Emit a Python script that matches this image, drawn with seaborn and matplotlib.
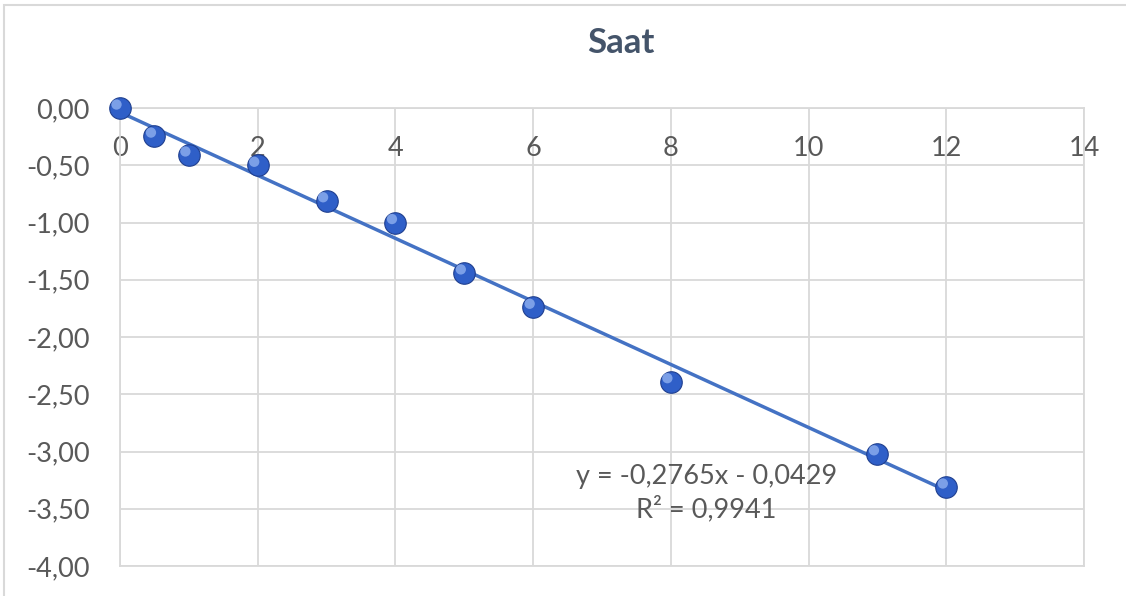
import matplotlib
matplotlib.use("Agg")
import matplotlib.pyplot as plt
import matplotlib.ticker as mticker
import matplotlib.patches as mpatches
import matplotlib.transforms as mtransforms
import seaborn as sns
import pandas as pd

# Data
saat_x = [0, 0.5, 1, 2, 3, 4, 5, 6, 8, 11, 12]
saat_y = [0.00, -0.245, -0.41, -0.50, -0.81, -1.00, -1.44, -1.74, -2.39, -3.02, -3.31]
equation_text = "y = -0,2765x - 0,0429\nR² = 0,9941"
title_text = "Saat"
x_ticks = [0, 2, 4, 6, 8, 10, 12, 14]
y_ticks = [0.0, -0.5, -1.0, -1.5, -2.0, -2.5, -3.0, -3.5, -4.0]

df = pd.DataFrame({"x": saat_x, "y": saat_y})

sns.set_theme(style="white")
plt.rcParams["font.family"] = ["Lato", "DejaVu Sans"]

fig = plt.figure(figsize=(11.26, 5.96), dpi=100)
ax = fig.add_axes([120 / 1126, 30 / 596, (1084 - 120) / 1126, (566 - 108) / 596])

# chart border
fig.patches.append(mpatches.Rectangle((4 / 1126, -0.01), 1.02, 1 - 5 / 596 + 0.01,
                                      transform=fig.transFigure, fill=False,
                                      edgecolor="#D9D9D9", linewidth=1.5))

# trendline
sns.regplot(data=df, x="x", y="y", ax=ax, scatter=False, ci=None, truncate=True,
            line_kws=dict(color="#4472C4", linewidth=2.5, zorder=3))

# markers (sphere look: main + highlight)
sns.scatterplot(data=df, x="x", y="y", ax=ax, s=240, color="#2F5FC8",
                edgecolor="#1F3F8F", linewidth=0.8, zorder=4, clip_on=False)
sns.scatterplot(data=df, x="x", y="y", ax=ax, s=55, color="#8FB0F0",
                edgecolor="none", zorder=5, clip_on=False, alpha=0.8)
ax.collections[-1].set_offset_transform(
    ax.transData + mtransforms.ScaledTranslation(-2.5 / 72, 2.5 / 72, fig.dpi_scale_trans))

ax.set_xlim(0, 14)
ax.set_ylim(-4, 0)
ax.set_xticks(x_ticks)
ax.set_yticks(y_ticks)
ax.xaxis.set_major_formatter(mticker.FuncFormatter(lambda v, p: f"{v:.0f}"))
ax.yaxis.set_major_formatter(mticker.FuncFormatter(lambda v, p: f"{v:.2f}".replace(".", ",")))
ax.set_xlabel("")
ax.set_ylabel("")

ax.grid(True, color="#D9D9D9", linewidth=1.3)
ax.set_axisbelow(True)
for s in ax.spines.values():
    s.set_visible(True)
    s.set_color("#D9D9D9")
    s.set_linewidth(1.3)

ax.tick_params(axis="y", length=0, pad=22, labelsize=19.5, labelcolor="#595959")
ax.tick_params(axis="x", length=0, labeltop=True, labelbottom=False, top=False, bottom=False,
               pad=-38, labelsize=19.5, labelcolor="#595959")

ax.text(8.52, -3.36, equation_text, ha="center", va="center", fontsize=19.5,
        color="#595959", linespacing=1.3, zorder=6)

fig.text(621 / 1126, 1 - 43 / 596, title_text, ha="center", va="center", fontsize=25,
         fontweight="bold", color="#44546A")

fig.savefig("out.png", dpi=100, facecolor="white")
